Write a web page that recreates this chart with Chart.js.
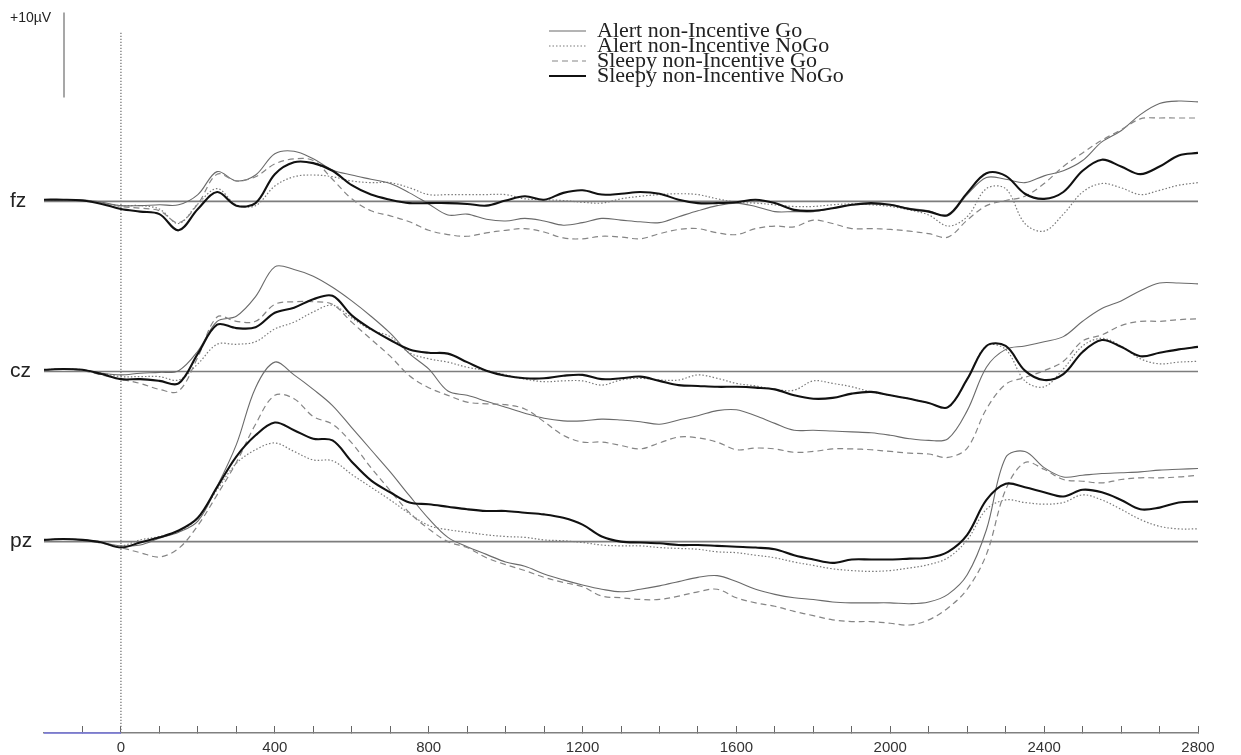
<!DOCTYPE html>
<html>
<head>
<meta charset="utf-8">
<script src="https://cdn.jsdelivr.net/npm/chart.js@4.4.1/dist/chart.umd.min.js"></script>
<style>
  html, body { margin: 0; padding: 0; background: #ffffff; }
  #wrap { width: 1241px; height: 755px; }
</style>
</head>
<body>
<div id="wrap"><canvas id="c" width="1241" height="755"></canvas></div>
<script>
// ---- Data (µV) ----
const times = [-200,-150,-100,-50,0,50,100,150,200,250,300,350,400,450,500,550,600,650,700,750,800,850,900,950,1000,1050,1100,1150,1200,1250,1300,1350,1400,1450,1500,1550,1600,1650,1700,1750,1800,1850,1900,1950,2000,2050,2100,2150,2200,2250,2300,2350,2400,2450,2500,2550,2600,2650,2700,2750,2800];

const categories = ['Alert non-Incentive Go', 'Alert non-Incentive NoGo', 'Sleepy non-Incentive Go', 'Sleepy non-Incentive NoGo'];
const channels = ['fz', 'cz', 'pz'];
const xTickLabels = [0, 400, 800, 1200, 1600, 2000, 2400, 2800];
const scaleBarLabel = '+10µV';

const fzAlertGo = [0.2,0.2,0.2,-0.1,-0.5,-0.5,-0.4,-0.4,0.8,3.5,
 2.4,3.1,5.6,5.9,5.0,3.7,3.1,2.6,2.1,1.0,
 -0.3,-1.6,-1.5,-2.1,-2.3,-2.0,-2.3,-2.8,-2.5,-2.0,
 -2.2,-2.4,-2.5,-1.8,-1.1,-0.5,-0.2,-0.6,-1.2,-1.2,
 -1.2,-0.8,-0.4,-0.3,-0.4,-0.8,-1.1,-1.7,0.8,2.8,
 2.6,2.2,3.0,3.6,4.8,7.0,8.3,10.2,11.5,11.8,11.7];
const fzAlertNoGo = [0.2,0.2,0.1,-0.2,-0.5,-0.5,-0.9,-2.6,-0.3,1.5,
 -0.4,-0.5,1.8,2.9,3.1,2.9,2.4,2.2,2.2,1.6,
 0.8,0.8,0.8,0.8,0.8,0.3,0.2,0.1,-0.1,-0.2,
 0.3,0.6,0.8,0.9,0.8,0.3,-0.1,-0.2,-0.4,-0.6,
 -0.6,-0.4,-0.3,-0.4,-0.6,-1.0,-1.6,-2.9,-1.8,1.5,
 1.5,-2.6,-3.5,-1.5,1.1,2.1,1.6,0.8,1.3,1.9,2.2];
const fzSleepyGo = [0.2,0.2,0.1,-0.2,-0.6,-0.8,-1.1,-2.5,-0.3,3.2,
 2.4,2.9,4.4,5.0,4.8,2.6,0.3,-1.1,-1.7,-2.4,
 -3.4,-3.9,-4.1,-3.7,-3.4,-3.2,-3.6,-4.3,-4.4,-4.1,
 -4.2,-4.4,-3.8,-3.3,-3.2,-3.7,-3.9,-3.2,-2.9,-3.0,
 -2.2,-2.6,-3.2,-3.2,-3.3,-3.5,-3.8,-4.2,-2.2,-0.5,
 0.1,0.6,2.1,4.1,5.7,7.2,8.4,9.7,9.8,9.8,9.8];
const fzSleepyNoGo = [0.2,0.2,0.1,-0.3,-0.9,-1.2,-1.5,-3.4,-0.9,1.1,
 -0.5,-0.2,3.2,4.6,4.5,3.6,1.9,0.8,0.2,-0.2,
 -0.2,-0.2,-0.3,-0.5,0.1,0.6,0.2,1.0,1.3,0.8,
 0.9,1.1,0.9,0.2,-0.2,-0.2,-0.1,0.2,-0.2,-1.0,
 -1.1,-0.8,-0.4,-0.2,-0.4,-0.9,-1.2,-1.6,1.0,3.3,
 3.0,0.9,0.3,1.1,3.6,4.9,4.1,3.2,4.1,5.4,5.7];

const czAlertGo = [0.2,0.3,0.2,-0.2,-0.4,-0.2,-0.1,0.1,2.4,5.9,
 6.5,8.8,12.3,12.0,11.2,9.9,8.3,6.5,4.5,2.1,
 0.3,-2.3,-2.8,-3.5,-4.2,-4.9,-5.5,-5.8,-5.8,-5.6,
 -5.7,-5.9,-6.2,-5.7,-5.2,-4.6,-4.5,-5.2,-6.1,-6.9,
 -6.9,-7.0,-7.1,-7.2,-7.5,-7.9,-8.1,-7.9,-4.6,0.5,
 2.6,3.0,3.5,4.1,5.9,7.4,8.3,9.5,10.4,10.4,10.3];
const czAlertNoGo = [0.2,0.3,0.2,-0.2,-0.6,-0.6,-0.6,-1.0,0.9,3.2,
 3.2,3.5,5.0,5.8,7.0,7.8,6.3,4.9,4.1,2.2,
 1.5,1.1,0.5,0.1,-0.4,-0.9,-1.2,-1.1,-1.1,-1.6,
 -1.0,-0.8,-1.0,-1.0,-0.4,-0.8,-1.4,-1.7,-2.1,-2.2,
 -1.1,-1.4,-1.8,-2.4,-2.8,-3.2,-3.7,-4.2,-0.9,3.0,
 2.6,-1.1,-1.8,0.3,3.0,3.9,3.0,1.5,0.9,1.1,1.2];
const czSleepyGo = [0.2,0.3,0.1,-0.4,-0.9,-1.4,-2.1,-2.3,1.7,6.4,
 5.9,5.9,7.9,8.2,8.2,7.9,5.8,3.8,1.8,-0.5,
 -1.9,-2.8,-3.6,-3.8,-3.9,-4.4,-5.9,-7.5,-8.3,-8.3,
 -8.7,-9.1,-8.4,-7.7,-7.8,-8.3,-9.2,-9.0,-9.1,-9.5,
 -9.4,-9.1,-9.1,-9.2,-9.4,-9.6,-9.7,-10.1,-9.0,-4.4,
 -1.5,-0.7,0.1,1.2,3.6,4.3,5.4,5.9,5.9,6.1,6.2];
const czSleepyNoGo = [0.2,0.3,0.2,-0.3,-0.9,-0.9,-1.1,-1.4,2.1,5.5,
 5.1,5.2,6.9,7.5,8.5,8.9,6.6,5.0,3.7,2.6,
 2.2,2.1,1.1,0.1,-0.5,-0.8,-0.8,-0.5,-0.4,-0.9,
 -0.8,-0.6,-1.1,-1.6,-1.7,-1.8,-1.8,-1.9,-2.1,-2.8,
 -3.2,-3.1,-2.6,-2.4,-2.8,-3.2,-3.7,-4.2,-0.9,3.0,
 3.0,0.1,-1.0,-0.3,2.3,3.7,2.9,1.8,2.2,2.6,2.9];

const pzAlertGo = [0.2,0.3,0.2,-0.1,-0.5,-0.4,0.4,1.1,2.4,6.5,
 11.4,18.1,21.1,19.6,17.9,16.0,13.4,10.8,8.2,5.4,
 2.7,0.5,-0.6,-1.5,-2.4,-2.9,-3.8,-4.5,-5.1,-5.6,
 -5.9,-5.6,-5.2,-4.7,-4.2,-4.0,-4.7,-5.6,-6.2,-6.6,
 -6.8,-7.1,-7.2,-7.2,-7.2,-7.3,-7.1,-6.2,-3.9,1.4,
 9.9,10.6,8.7,7.6,7.8,8.0,8.1,8.2,8.4,8.5,8.6];
const pzAlertNoGo = [0.2,0.3,0.2,-0.1,-0.5,0.2,0.6,1.2,2.8,6.1,
 9.2,10.8,11.6,10.6,9.6,9.5,7.9,6.4,4.9,3.3,
 1.9,1.4,1.1,0.8,0.6,0.5,0.2,0.1,-0.1,-0.4,
 -0.5,-0.5,-0.7,-0.8,-0.9,-1.2,-1.3,-1.6,-1.9,-2.4,
 -2.8,-3.2,-3.4,-3.5,-3.4,-3.1,-2.7,-1.9,0.2,3.8,
 4.9,4.6,4.4,4.6,5.5,4.9,3.8,2.6,1.8,1.5,1.5];
const pzSleepyGo = [0.2,0.3,0.2,-0.2,-0.7,-1.3,-1.8,-0.8,1.9,5.5,
 9.3,13.8,17.2,16.8,14.7,13.8,11.6,8.7,6.0,3.4,
 1.5,0.0,-0.7,-1.9,-2.7,-3.4,-4.2,-4.8,-5.3,-6.4,
 -6.6,-6.8,-6.8,-6.4,-5.9,-5.6,-6.6,-7.2,-7.6,-8.2,
 -8.7,-9.2,-9.4,-9.4,-9.6,-9.8,-9.2,-7.8,-5.6,-1.5,
 6.1,9.3,8.5,7.3,7.1,6.9,7.3,7.5,7.5,7.6,7.8];
const pzSleepyNoGo = [0.2,0.3,0.2,-0.1,-0.7,-0.1,0.5,1.3,2.8,6.4,
 10.0,12.5,14.0,13.1,12.1,11.9,9.4,7.2,5.8,4.6,
 4.4,4.1,3.8,3.6,3.6,3.4,3.2,2.8,2.0,0.6,
 0.0,-0.1,-0.2,-0.4,-0.4,-0.5,-0.6,-0.7,-0.9,-1.6,
 -2.1,-2.5,-2.1,-2.1,-2.1,-2.0,-1.9,-1.2,0.8,4.9,
 6.8,6.4,5.8,5.3,6.1,5.8,4.9,3.8,4.0,4.6,4.7];

// ---- Layout constants (not data) ----
const CH_OFFSET = [62.5, 42.5, 22.5];   // vertical offset (µV) of fz, cz, pz baselines
const Y_MIN = 0, Y_MAX = 85;
const X_MIN = -200, X_MAX = 2800;
const BAR_X = -148, BAR_LOW = 74.7, BAR_HIGH = 84.7, BAR_LABEL_Y = 84.1;
const ZERO_TOP = 82.4;

const seriesByCondition = [
  [fzAlertGo, czAlertGo, pzAlertGo],
  [fzAlertNoGo, czAlertNoGo, pzAlertNoGo],
  [fzSleepyGo, czSleepyGo, pzSleepyGo],
  [fzSleepyNoGo, czSleepyNoGo, pzSleepyNoGo]
];

function stack(arrs) {
  const pts = [];
  arrs.forEach((arr, c) => {
    if (c > 0) pts.push({ x: X_MAX, y: null });
    arr.forEach((v, i) => pts.push({ x: times[i], y: v + CH_OFFSET[c] }));
  });
  return pts;
}

const styles = [
  { borderColor: '#6a6a6a', borderWidth: 1.1, borderDash: [] },
  { borderColor: '#7a7a7a', borderWidth: 1.2, borderDash: [1.5, 2] },
  { borderColor: '#858585', borderWidth: 1.2, borderDash: [6, 4] },
  { borderColor: '#111111', borderWidth: 2.1, borderDash: [] }
];
const drawOrder = [2, 3, 1, 0];

const datasets = categories.map((name, k) => ({
  label: name,
  data: stack(seriesByCondition[k]),
  borderColor: styles[k].borderColor,
  borderWidth: styles[k].borderWidth,
  borderDash: styles[k].borderDash,
  backgroundColor: 'rgba(0,0,0,0)',
  pointRadius: 0,
  tension: 0.35,
  fill: false,
  order: drawOrder[k]
}));

// channel baselines
const baseData = [];
CH_OFFSET.forEach((o, c) => {
  if (c > 0) baseData.push({ x: X_MAX, y: null });
  baseData.push({ x: X_MIN, y: o }, { x: X_MAX, y: o });
});
datasets.push({ label: 'baselines', data: baseData, borderColor: '#7d7d7d', borderWidth: 1.6, pointRadius: 0, order: 10 });
// stimulus onset (0 ms)
datasets.push({ label: 'onset', data: [{ x: 0, y: Y_MIN }, { x: 0, y: ZERO_TOP }], borderColor: '#777777', borderWidth: 1.3, borderDash: [1.3, 1.7], pointRadius: 0, order: 11 });
// +10 µV scale bar
datasets.push({ label: 'scale', data: [{ x: BAR_X, y: BAR_LOW }, { x: BAR_X, y: BAR_HIGH }], borderColor: '#8a8a8a', borderWidth: 1.5, pointRadius: 0, order: 11 });
// pre-stimulus part of the time axis (blue)
datasets.push({ label: 'prestim', data: [{ x: X_MIN, y: Y_MIN }, { x: 0, y: Y_MIN }], borderColor: '#7b7be0', borderWidth: 1.5, pointRadius: 0, order: 0, clip: false });

const yTickValues = [BAR_LABEL_Y, CH_OFFSET[0], CH_OFFSET[1], CH_OFFSET[2]];
const yTickNames = [scaleBarLabel, channels[0], channels[1], channels[2]];

const legendPlacer = {
  id: 'legendPlacer',
  afterLayout(chart) {
    const lg = chart.legend;
    if (!lg) return;
    const w = lg.width, h = lg.height;
    lg.left = 549; lg.top = 17.4;
    lg.right = lg.left + w + 20; lg.bottom = lg.top + h;
  }
};

new Chart(document.getElementById('c'), {
  type: 'line',
  data: { datasets },
  plugins: [legendPlacer],
  options: {
    responsive: false,
    animation: false,
    layout: { padding: { top: 10, left: 10, right: 43, bottom: 0 } },
    plugins: {
      tooltip: { enabled: false },
      legend: {
        position: 'chartArea',
        align: 'start',
        title: { display: true, text: '', padding: 0, font: { size: 8 } },
        labels: {
          usePointStyle: true,
          pointStyle: 'line',
          pointStyleWidth: 44,
          padding: -7,
          color: '#222',
          font: { family: '"Liberation Serif", "Times New Roman", serif', size: 22 },
          generateLabels(chart) {
            return chart.data.datasets.slice(0, 4).map((ds, i) => ({
              text: ds.label,
              fillStyle: 'rgba(0,0,0,0)',
              strokeStyle: ds.borderColor,
              lineWidth: ds.borderWidth,
              lineDash: ds.borderDash,
              pointStyle: 'line',
              hidden: false,
              fontColor: '#222',
              datasetIndex: i
            }));
          }
        }
      }
    },
    scales: {
      x: {
        type: 'linear',
        position: 'bottom',
        min: X_MIN,
        max: X_MAX,
        afterFit(scale) { scale.height = 22; },
        border: { display: true, color: '#808080', width: 1.5 },
        grid: {
          drawOnChartArea: false,
          drawTicks: true,
          tickLength: -7,
          lineWidth: 1,
          color: (ctx) => (ctx.tick && ctx.tick.value === X_MIN) ? 'rgba(0,0,0,0)' : '#666',
          tickColor: (ctx) => (ctx.tick && ctx.tick.value === X_MIN) ? 'rgba(0,0,0,0)' : '#666'
        },
        ticks: {
          stepSize: 100,
          autoSkip: false,
          maxRotation: 0,
          padding: 13,
          color: '#333',
          font: { family: '"Liberation Sans", Arial, sans-serif', size: 15 },
          callback: (v) => xTickLabels.includes(v) ? String(v) : ''
        }
      },
      y: {
        type: 'linear',
        position: 'left',
        min: Y_MIN,
        max: Y_MAX,
        afterFit(scale) { scale.width = 34; },
        afterBuildTicks(scale) { scale.ticks = yTickValues.map(v => ({ value: v })); },
        grid: { display: false },
        border: { display: false },
        ticks: {
          mirror: true,
          crossAlign: 'near',
          padding: -34,
          color: '#222',
          font: (ctx) => ctx.index === 0
            ? { family: '"Liberation Sans", Arial, sans-serif', size: 14 }
            : { family: '"Liberation Sans", Arial, sans-serif', size: 21 },
          callback: (v) => {
            const i = yTickValues.indexOf(v);
            return i >= 0 ? yTickNames[i] : '';
          }
        }
      }
    }
  }
});
</script>
</body>
</html>
